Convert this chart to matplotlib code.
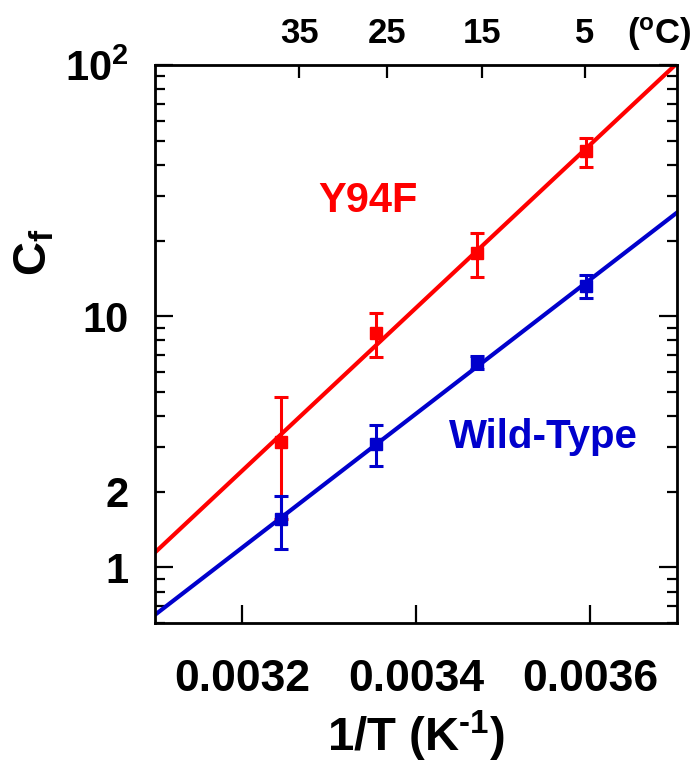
import numpy as np
import matplotlib
matplotlib.use("Agg")
import matplotlib.pyplot as plt
from matplotlib.ticker import FixedLocator, FuncFormatter, LogLocator

plt.rcParams['font.family'] = ['Liberation Sans', 'DejaVu Sans']
plt.rcParams['font.weight'] = 'bold'
plt.rcParams['mathtext.fontset'] = 'custom'
plt.rcParams['mathtext.rm'] = 'Liberation Sans:bold'
plt.rcParams['mathtext.bf'] = 'Liberation Sans:bold'
plt.rcParams['mathtext.it'] = 'Liberation Sans:bold'
plt.rcParams['mathtext.default'] = 'bf'

# ---- data ----
temps_C = [35, 25, 15, 5]
y94f_cf = [3.15, 8.6, 17.9, 45.3]
y94f_err = [1.6, 1.7, 3.6, 6.0]
wt_cf = [1.55, 3.1, 6.56, 13.2]
wt_err = [0.37, 0.57, 0.4, 1.4]

x_ticks = [0.0032, 0.0034, 0.0036]
x_tick_labels = ['0.0032', '0.0034', '0.0036']
top_tick_pos = [0.003266, 0.003367, 0.003476, 0.003594]
top_tick_labels = ['35', '25', '15', '5']

red = '#ff0000'
blue = '#0000cc'

inv_T = 1.0 / (np.array(temps_C) + 273.15)

fig = plt.figure(figsize=(6.93, 7.66), dpi=100)
ax = fig.add_axes([155/693, 1-623/766, 522/693, 558/766])

xlim = (0.0031, 0.0037)
xx = np.linspace(xlim[0], xlim[1], 200)
for cf, err, col in [(y94f_cf, y94f_err, red), (wt_cf, wt_err, blue)]:
    p = np.polyfit(inv_T, np.log10(cf), 1)
    ax.plot(xx, 10**np.polyval(p, xx), color=col, lw=3.0, zorder=2)
    ax.errorbar(inv_T, cf, yerr=err, fmt='s', color=col, ms=8.5, elinewidth=2.2,
                capsize=5, capthick=2.2, zorder=3)

ax.set_yscale('log')
ax.set_xlim(*xlim)
ax.set_ylim(0.6, 100)

ax.set_xticks(x_ticks)
ax.set_xticklabels(x_tick_labels)
ax.yaxis.set_major_locator(FixedLocator([1, 10, 100]))
ax.yaxis.set_major_formatter(FuncFormatter(lambda v, p: {1: '1', 10: '10', 100: '$10^2$'}.get(int(round(v)), '')))
ax.yaxis.set_minor_locator(LogLocator(base=10, subs=np.arange(2, 10)))
ax.yaxis.set_minor_formatter(FuncFormatter(lambda v, p: '2' if abs(v - 2) < 1e-6 else ''))

ax.tick_params(axis='x', which='major', direction='in', length=13, width=1.6,
               labelsize=32, pad=26, top=False)
ax.tick_params(axis='y', which='major', direction='in', length=13, width=1.6,
               labelsize=30, pad=19, right=True)
ax.tick_params(axis='y', which='minor', direction='in', length=7, width=1.6,
               labelsize=30, pad=19, right=True)
for s in ax.spines.values():
    s.set_linewidth(2.0)

ax2 = ax.twiny()
ax2.set_xlim(*xlim)
ax2.set_xticks(top_tick_pos)
ax2.set_xticklabels(top_tick_labels)
ax2.tick_params(axis='x', direction='in', length=9, width=1.6, labelsize=25, pad=11)
fig.text(659/693, 1-34/766, '($^{o}$C)', fontsize=25, ha='center', va='center', fontweight='bold')

ax.text(0.003345, 28.7, 'Y94F', color=red, fontsize=30, fontweight='bold', ha='center', va='center')
ax.text(0.003546, 3.3, 'Wild-Type', color=blue, fontsize=29, fontweight='bold', ha='center', va='center')

fig.text(35/693, 1-252/766, 'C$_f$', rotation=90, fontsize=34, ha='center', va='center')
fig.text(416/693, 1-736/766, '1/T (K$^{\\text{-}1}$)', fontsize=34, ha='center', va='center')

fig.savefig('out.png', dpi=100)
